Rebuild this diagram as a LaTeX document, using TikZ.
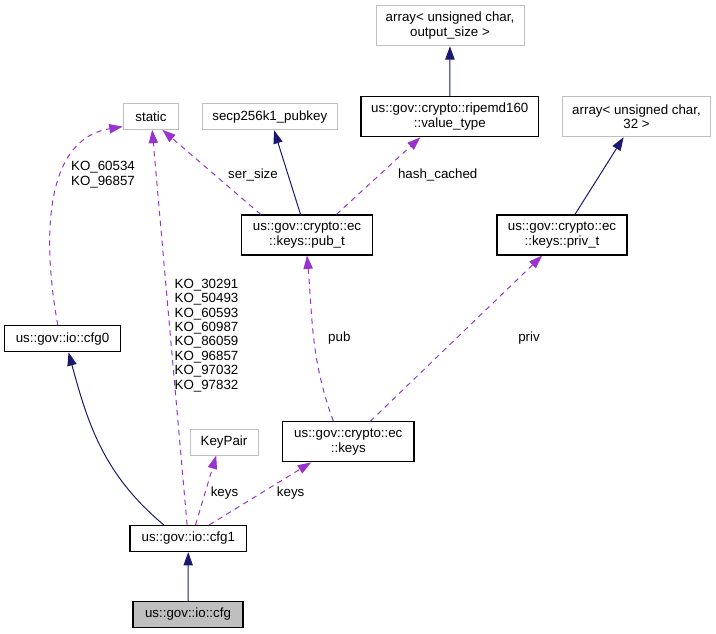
\documentclass[tikz,border=0pt]{standalone}
\usepackage{fontspec}
\setmainfont{Liberation Sans}
\usetikzlibrary{arrows.meta, calc}
\definecolor{edgenavy}{RGB}{25, 25, 112}
\definecolor{edgepurple}{RGB}{154, 50, 205}
\definecolor{boxgray}{RGB}{191, 191, 191}

\begin{document}
\begin{tikzpicture}[
    x=0.75pt, y=-0.75pt,
    % Node Styles
    cls/.style={rectangle, draw=black, line width=0.9pt, fill=white, align=center, inner sep=1pt, font=\fontsize{10}{11}\selectfont},
    ext/.style={cls, draw=boxgray, line width=0.75pt},
    cur/.style={cls, fill=boxgray},
    one/.style={minimum height=19.5pt},
    two/.style={minimum height=30pt},
    % Edge Styles
    inh/.style={-{Triangle[length=10pt, width=7pt]}, draw=edgenavy, line width=0.75pt},
    member/.style={-{Triangle[length=10pt, width=7pt]}, draw=edgepurple, line width=0.75pt, dash pattern=on 4pt off 3.5pt},
    lbl/.style={font=\fontsize{10}{10.8}\selectfont, align=center}
]
\useasboundingbox (0,0) rectangle (716,633);

% Top row
\node[ext, two, minimum width=111pt] (arrOut) at (450,25.7) {array< unsigned char,\\output\_size >};

% Second row
\node[ext, one, minimum width=41.8pt] (static) at (151,116.3) {static};
\node[ext, one, minimum width=101.3pt] (secp) at (269.8,116.7) {secp256k1\_pubkey};
\node[cls, two, minimum width=133.3pt] (ripemd) at (449.8,116.7) {us::gov::crypto::ripemd160\\::value\_type};
\node[ext, two, minimum width=111.3pt] (arr32) at (636.5,116.7) {array< unsigned char,\\32 >};

% Key types
\node[cls, two, minimum width=98pt] (pubt) at (307,235) {us::gov::crypto::ec\\::keys::pub\_t};
\node[cls, two, minimum width=97.5pt] (privt) at (562,235) {us::gov::crypto::ec\\::keys::priv\_t};

% Lower part
\node[cls, one, minimum width=87.3pt] (cfg0) at (62.5,338.7) {us::gov::io::cfg0};
\node[ext, one, minimum width=51pt] (keypair) at (224,442) {KeyPair};
\node[cls, two, minimum width=98.5pt] (keys) at (348.3,441.8) {us::gov::crypto::ec\\::keys};
\node[cls, one, minimum width=87.5pt] (cfg1) at (188.3,538.5) {us::gov::io::cfg1};
\node[cur, one, minimum width=82.5pt] (cfg) at (188,614.5) {us::gov::io::cfg};

% Inheritance
\draw[inh] (ripemd) -- (arrOut);
\draw[inh] (pubt) -- (secp);
\draw[inh] (privt) -- (arr32);
\draw[inh] (cfg1.151) to[out=140, in=-75] (cfg0.-66);
\draw[inh] (cfg) -- (cfg1);

% Members
\draw[member] (pubt.156) -- (static.-50);
\draw[member] (pubt.35.5) -- (ripemd.215);
\draw[member] (keys.126.5) to[out=110, in=-85] (pubt.south);
\draw[member] (keys.43) -- (privt.226);
\draw[member] (cfg0.109) .. controls (44,250) and (40,140) .. (static.200);
\draw[member] (cfg1) -- (static);
\draw[member] (cfg1.62) -- (keypair.240);
\draw[member] (cfg1.33) -- (keys.209);

% Edge labels
\node[lbl] (lSer) at (253,175) {ser\_size};
\node[lbl] (lHash) at (437.7,175) {hash\_cached};
\node[lbl] (lCfg0) at (103,174.5) {KO\_60534\\KO\_96857};
\node[lbl] (lCfg1) at (206.5,335.3) {KO\_30291\\KO\_50493\\KO\_60593\\KO\_60987\\KO\_86059\\KO\_96857\\KO\_97032\\KO\_97832};
\node[lbl] (lPub) at (339.3,338) {pub};
\node[lbl] (lPriv) at (529,338) {priv};
\node[lbl] (lKeyA) at (224.5,492.7) {keys};
\node[lbl] (lKeyB) at (290.7,492.7) {keys};
\end{tikzpicture}
\end{document}
